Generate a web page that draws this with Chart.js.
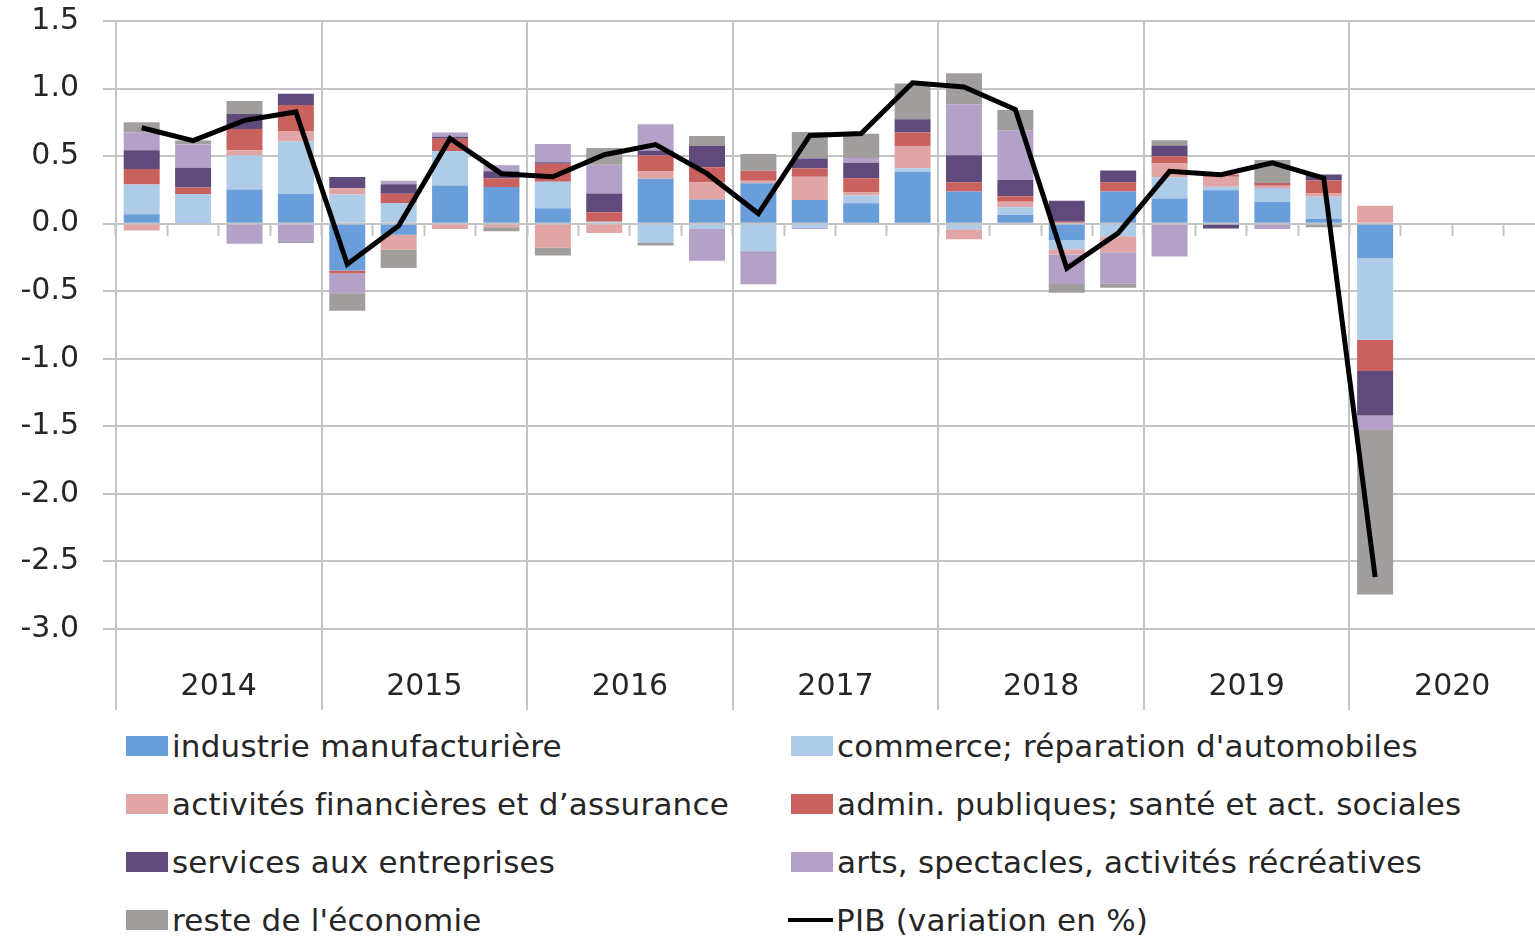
<!DOCTYPE html>
<html>
<head>
<meta charset="utf-8">
<script src="https://cdn.jsdelivr.net/npm/chart.js@4.4.1/dist/chart.umd.min.js"></script>
<style>
  body { margin: 0; background: #fff; overflow: hidden; width: 1535px; height: 937px; font-family: 'DejaVu Sans', sans-serif; color: #262626; }
  #wrap { position: absolute; left: 0; top: 0; width: 1555px; height: 715px; }
  .item { position: absolute; display: flex; align-items: center; height: 40px; font-size: 31px; letter-spacing: 0.2px; white-space: nowrap; }
  .box { width: 42px; height: 20px; margin-right: 4px; }
  .line { width: 45px; height: 4px; background: #000; margin-right: 3px; }
</style>
</head>
<body>
<div id="wrap"><canvas id="gdpChart" width="1555" height="715"></canvas></div>
<div id="legend"></div>
<script>
// years on the lower axis, quarters for the bars
const years = ['2014', '2015', '2016', '2017', '2018', '2019', '2020'];
const quarters = years.flatMap(y => ['T1', 'T2', 'T3', 'T4'].map(q => y + q));

// contributions (points de %), 2014T1 .. 2020T1
const industrie = [0.069, 0.01, 0.252, 0.22, -0.347, -0.082, 0.282, 0.272, 0.114, 0, 0.332, 0.178, 0.30, 0.176, 0.151, 0.385, 0.238, 0.065, -0.122, 0.238, 0.186, 0.248, 0.163, 0.037, -0.254];
const commerce = [0.22, 0.21, 0.252, 0.388, 0.215, 0.153, 0.255, 0, 0.196, 0.015, -0.144, -0.04, -0.206, -0.03, 0.057, 0.025, -0.042, 0.057, -0.067, -0.094, 0.158, 0.025, 0.101, 0.163, -0.605];
const financieres = [-0.05, 0, 0.04, 0.077, 0.047, -0.111, -0.04, -0.027, -0.176, -0.069, 0.057, 0.126, 0.017, 0.171, 0.022, 0.161, -0.074, 0.04, -0.04, -0.117, 0.101, 0.074, 0.017, 0.027, 0.133];
const admin = [0.116, 0.047, 0.156, 0.193, -0.022, 0.069, 0.092, 0.062, 0.134, 0.069, 0.116, 0.114, 0.074, 0.062, 0.107, 0.104, 0.069, 0.04, 0.015, 0.069, 0.054, 0.017, 0.02, 0.092, -0.232];
const services = [0.138, 0.146, 0.111, 0.084, 0.084, 0.069, 0.015, 0.054, 0.01, 0.139, 0.037, 0.156, -0.005, 0.074, 0.114, 0.097, 0.199, 0.122, 0.154, 0.087, 0.079, -0.035, 0, 0.045, -0.328];
const arts = [0.131, 0.173, -0.148, -0.136, -0.146, 0.027, 0.03, 0.045, 0.136, 0.213, 0.193, -0.235, -0.238, -0.01, 0.035, 0, 0.377, 0.367, -0.218, -0.233, -0.243, 0, -0.04, 0, -0.109];
const reste = [0.077, 0.03, 0.096, -0.007, -0.129, -0.136, 0, -0.03, -0.059, 0.124, -0.017, 0.074, 0.124, 0.196, 0.179, 0.266, 0.231, 0.151, -0.065, -0.03, 0.04, 0, 0.171, -0.027, -1.217];
const pib = [0.71, 0.615, 0.765, 0.827, -0.30, -0.015, 0.63, 0.37, 0.347, 0.51, 0.585, 0.37, 0.075, 0.653, 0.667, 1.043, 1.012, 0.845, -0.33, -0.07, 0.387, 0.362, 0.45, 0.337, -2.615];

const gridColor = '#c4c4c4';
const textColor = '#262626';
const font = { family: "'DejaVu Sans', sans-serif", size: 30 };

function bar(label, data, color) {
  return { type: 'bar', label: label, data: data, backgroundColor: color, stack: 'secteurs', order: 1, barPercentage: 0.7, categoryPercentage: 1 };
}

let gdpChart;

function initChart() {
  const ctx = document.getElementById('gdpChart').getContext('2d');
  gdpChart = new Chart(ctx, {
    data: {
      labels: quarters,
      datasets: [
        bar('industrie manufacturière', industrie, '#6a9eda'),
        bar("commerce; réparation d'automobiles", commerce, '#aecbe8'),
        bar('activités financières et d’assurance', financieres, '#e2a5a5'),
        bar('admin. publiques; santé et act. sociales', admin, '#c9625f'),
        bar('services aux entreprises', services, '#604a7b'),
        bar('arts, spectacles, activités récréatives', arts, '#b3a1c7'),
        bar("reste de l'économie", reste, '#a09d9c'),
        {
          type: 'line', label: 'PIB (variation en %)', data: pib, stack: 'pib', order: 0,
          borderColor: '#000', borderWidth: 5, pointRadius: 0, tension: 0, fill: false
        }
      ]
    },
    options: {
      responsive: false,
      devicePixelRatio: 1,
      animation: false,
      layout: { padding: { top: 21, left: 0, right: 0, bottom: 0 } },
      plugins: { legend: { display: false }, tooltip: { enabled: false } },
      scales: {
        // quarter axis, crossing at zero, only short tick marks
        x: {
          type: 'category',
          stacked: true,
          position: { y: 0 },
          offset: true,
          ticks: { display: false },
          grid: { offset: true, drawOnChartArea: false, drawTicks: true, tickLength: 11, tickWidth: 2, tickColor: gridColor },
          border: { display: true, color: gridColor, width: 2 }
        },
        // year axis at the bottom, its grid gives the year separators
        x2: {
          type: 'category',
          labels: years,
          position: 'bottom',
          offset: true,
          grid: { offset: true, color: gridColor, lineWidth: 2, tickLength: 81 },
          border: { display: false },
          ticks: { font: font, color: textColor, padding: -41, maxRotation: 0, autoSkip: false },
          afterFit: (scale) => { scale.height = 86; }
        },
        y: {
          stacked: true,
          min: -3,
          max: 1.5,
          ticks: { stepSize: 0.5, font: font, color: textColor, padding: 24, callback: (v) => v.toFixed(1) },
          grid: { color: gridColor, lineWidth: 2, tickLength: 13 },
          border: { display: true, color: gridColor, width: 2 },
          afterFit: (scale) => {
            scale.width = 116;
            scale.paddingTop = 0;
            scale.paddingBottom = 0;
          }
        }
      }
    }
  });
}
initChart();

// legend in two columns under the chart
function buildLegend() {
  const el = document.getElementById('legend');
  const rows = [746, 804, 862, 920];
  const cols = [126, 791];
  gdpChart.data.datasets.forEach((ds, i) => {
    const item = document.createElement('div');
    item.className = 'item';
    item.style.left = (cols[i % 2] - (ds.type === 'line' ? 3 : 0)) + 'px';
    item.style.top = (rows[Math.floor(i / 2)] - 20) + 'px';
    const mark = document.createElement('span');
    if (ds.type === 'line') {
      mark.className = 'line';
    } else {
      mark.className = 'box';
      mark.style.background = ds.backgroundColor;
    }
    item.appendChild(mark);
    item.appendChild(document.createTextNode(ds.label));
    el.appendChild(item);
  });
}
buildLegend();
</script>
</body>
</html>
